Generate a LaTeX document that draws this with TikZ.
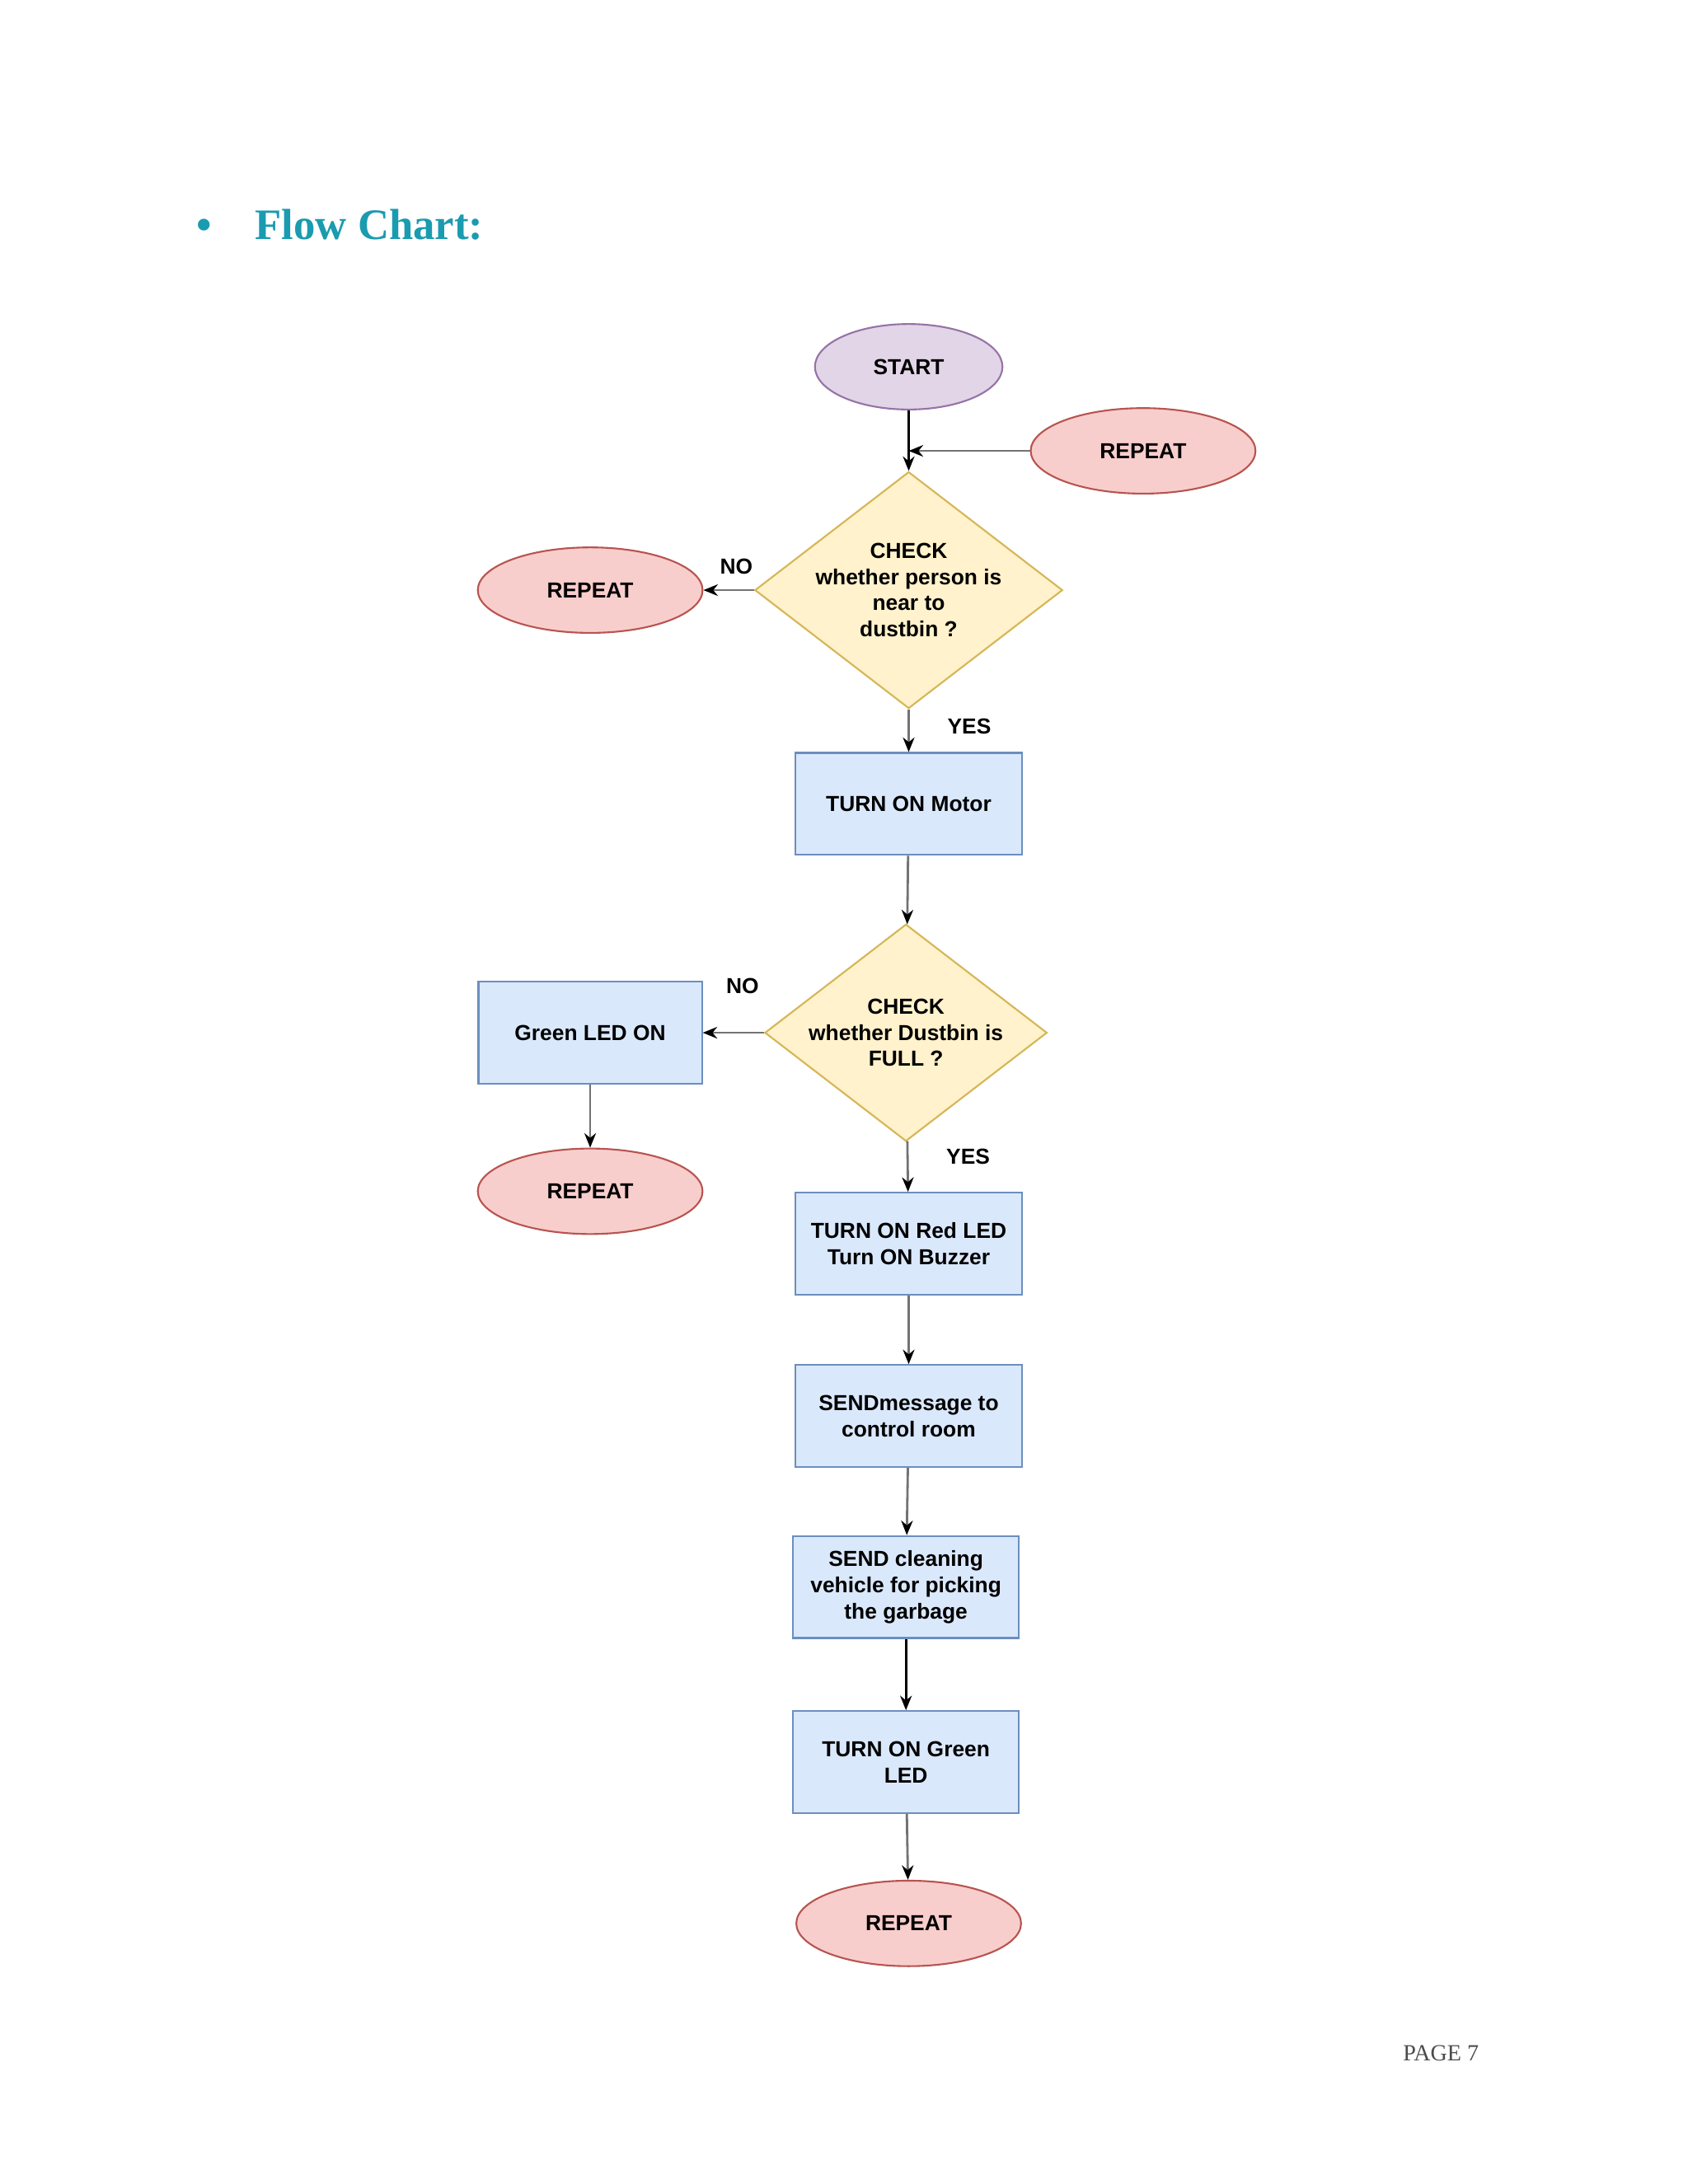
\documentclass[tikz,border=0pt]{standalone}
\usepackage{fontspec}
\setmainfont{Liberation Sans}
\newfontfamily\titlefont{Liberation Serif}
\usetikzlibrary{shapes.geometric,arrows.meta}
\definecolor{pfill}{HTML}{E1D5E7}\definecolor{pdraw}{HTML}{9673A6}
\definecolor{rfill}{HTML}{F8CECC}\definecolor{rdraw}{HTML}{B85450}
\definecolor{yfill}{HTML}{FFF2CC}\definecolor{ydraw}{HTML}{D6B656}
\definecolor{bfill}{HTML}{DAE8FC}\definecolor{bdraw}{HTML}{6C8EBF}
\definecolor{teal}{HTML}{1A9BB0}
\begin{document}
\begin{tikzpicture}[x=0.01673cm,y=-0.01673cm,
  every node/.style={font=\fontsize{7.5}{9}\selectfont\bfseries,align=center,inner sep=1pt},
  ell/.style={ellipse,draw=#1,line width=0.6pt,minimum width=163*0.01673cm,minimum height=62*0.01673cm},
  rep/.style={ell=rdraw,fill=rfill},
  dia/.style={diamond,draw=ydraw,fill=yfill,line width=0.6pt,minimum width=#1*0.01673cm,minimum height=137*0.01673cm,aspect=1.3,inner sep=0pt},
  box/.style={rectangle,draw=bdraw,fill=bfill,line width=0.6pt,minimum width=164*0.01673cm,minimum height=74*0.01673cm},
  arr/.style={draw=black!55,line width=0.8pt,-{Stealth[length=5pt,width=4pt,color=black]}},
  lbl/.style={font=\fontsize{7.5}{9}\selectfont\bfseries}]
\useasboundingbox (0,0) rectangle (1224,1584);
\fill[white] (0,0) rectangle (1224,1584);
\node[font=\titlefont\fontsize{15}{18}\selectfont\bfseries,text=teal,anchor=west] (title) at (140,163) {\textbullet\quad Flow Chart:};
\node[font=\titlefont\fontsize{8}{10}\selectfont,text=black!70] (page) at (1045,1489) {PAGE 7};
\node[ell=pdraw,fill=pfill,minimum width=136*0.01673cm] (start) at (659,266) {START};
\node[rep] (rep1) at (829,327) {REPEAT};
\node[dia=176] (d1) at (659,428) {CHECK\\whether person is\\near to\\dustbin ?};
\node[rep] (rep2) at (428,428) {REPEAT};
\node[box] (motor) at (659,583) {TURN ON Motor};
\node[dia=183] (d2) at (657,749) {CHECK\\whether Dustbin is\\FULL ?};
\node[box,minimum width=162*0.01673cm] (green) at (428,749) {Green LED ON};
\node[rep] (rep3) at (428,864) {REPEAT};
\node[box] (red) at (659,902) {TURN ON Red LED\\Turn ON Buzzer};
\node[box] (msg) at (659,1027) {SENDmessage to\\control room};
\node[box] (clean) at (657,1151) {SEND cleaning\\vehicle for picking\\the garbage};
\node[box] (gled) at (657,1278) {TURN ON Green\\LED};
\node[rep] (rep4) at (659,1395) {REPEAT};
\coordinate (j) at (659,327);
\draw[arr,draw=black] (start) -- (d1);
\draw[arr] (rep1) -- (j);
\draw[arr] (d1) -- (rep2) node[lbl,pos=0.35,above=4pt] {NO};
\draw[arr] (d1) -- (motor) node[lbl,pos=0.4,right=12pt] {YES};
\draw[arr] (motor) -- (d2);
\draw[arr] (d2) -- (green) node[lbl,pos=0.35,above=12pt] {NO};
\draw[arr] (green) -- (rep3);
\draw[arr] (d2) -- (red) node[lbl,pos=0.3,right=12pt] {YES};
\draw[arr] (red) -- (msg);
\draw[arr] (msg) -- (clean);
\draw[arr,draw=black] (clean) -- (gled);
\draw[arr] (gled) -- (rep4);
\end{tikzpicture}
\end{document}
